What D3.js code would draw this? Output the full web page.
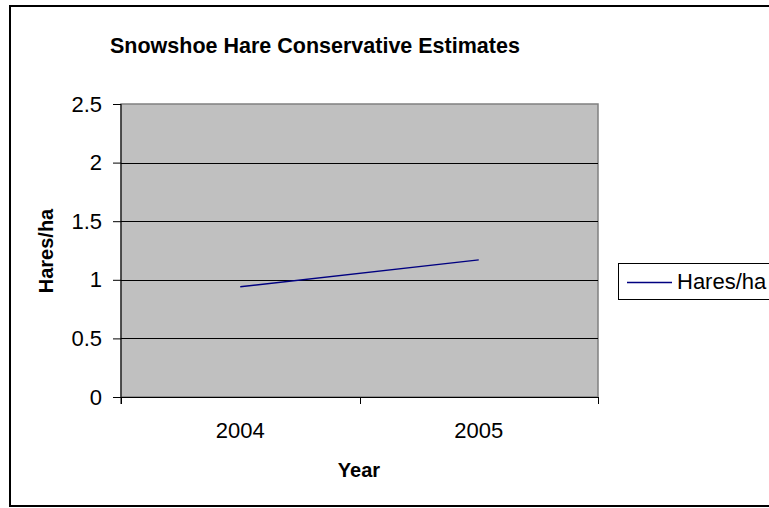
<!DOCTYPE html>
<html><head><meta charset="utf-8">
<script src="https://cdn.jsdelivr.net/npm/d3@7"></script>
<style>body{margin:0;background:#fff}svg{display:block}text{font-family:"Liberation Sans",Arial,sans-serif}</style>
</head><body><svg id="c" width="769" height="508"></svg>
<script>
const categories = ["2004", "2005"];
const values = [0.94, 1.17];
const yTicks = [0, 0.5, 1, 1.5, 2, 2.5];
const seriesName = "Hares/ha";
const title = "Snowshoe Hare Conservative Estimates";
const xTitle = "Year";
const yTitle = "Hares/ha";

const svg = d3.select("#c");
const m = {left: 121, right: 598, top: 104, bottom: 397};
const x = d3.scaleBand().domain(categories).range([m.left, m.right]);
const y = d3.scaleLinear().domain([0, 2.5]).range([m.bottom, m.top]);

// outer border
svg.append("rect").attr("x", 10).attr("y", 6).attr("width", 800).attr("height", 500)
  .attr("fill", "#fff").attr("stroke", "#000").attr("stroke-width", 2);

// plot area
svg.append("rect").attr("x", m.left).attr("y", m.top)
  .attr("width", m.right - m.left).attr("height", m.bottom - m.top)
  .attr("fill", "#c0c0c0").attr("stroke", "#808080").attr("stroke-width", 1.5);

// gridlines
svg.append("g").selectAll("line").data(yTicks.filter(d => d > 0 && d < 2.5)).join("line")
  .attr("x1", m.left).attr("x2", m.right)
  .attr("y1", d => Math.round(y(d)) + 0.5).attr("y2", d => Math.round(y(d)) + 0.5)
  .attr("stroke", "#000").attr("stroke-width", 1);

// y axis
const yAxis = d3.axisLeft(y).tickValues(yTicks).tickSize(8).tickPadding(11).tickFormat(d => String(d));
const gy = svg.append("g").attr("transform", `translate(${m.left},0)`).call(yAxis);
gy.select(".domain").attr("stroke", "#000").attr("d", `M0,${m.top}V${m.bottom + 7}`);
gy.selectAll(".tick line").attr("stroke", "#000");
gy.selectAll("text").attr("font-size", 22).attr("fill", "#000")
  .attr("font-family", '"Liberation Sans",Arial,sans-serif');

// x axis
const gx = svg.append("g").attr("transform", `translate(0,${m.bottom})`);
gx.append("line").attr("x1", m.left).attr("x2", m.right).attr("y1", 0.5).attr("y2", 0.5).attr("stroke", "#000");
const bounds = [m.left, x("2005"), m.right];
gx.selectAll("line.tk").data(bounds).join("line").attr("class", "tk")
  .attr("x1", d => Math.round(d) + 0.5).attr("x2", d => Math.round(d) + 0.5)
  .attr("y1", 0).attr("y2", 7).attr("stroke", "#000");
gx.selectAll("text").data(categories).join("text")
  .attr("x", d => x(d) + x.bandwidth() / 2).attr("y", 41)
  .attr("text-anchor", "middle").attr("font-size", 22).text(d => d);

// line
const line = d3.line().x((d, i) => x(categories[i]) + x.bandwidth() / 2).y(d => y(d));
svg.append("path").datum(values).attr("d", line).attr("fill", "none")
  .attr("stroke", "#000080").attr("stroke-width", 1.5);

// titles
svg.append("text").attr("x", 110).attr("y", 53).attr("font-size", 21.5).attr("font-weight", "bold").text(title);
svg.append("text").attr("x", 359).attr("y", 477).attr("text-anchor", "middle")
  .attr("font-size", 20).attr("font-weight", "bold").text(xTitle);
svg.append("text").attr("transform", "translate(53,251) rotate(-90)").attr("text-anchor", "middle")
  .attr("font-size", 20).attr("font-weight", "bold").text(yTitle);

// legend
const lg = svg.append("g");
lg.append("rect").attr("x", 618.5).attr("y", 263.5).attr("width", 200).attr("height", 36)
  .attr("fill", "#fff").attr("stroke", "#000").attr("stroke-width", 1);
lg.append("line").attr("x1", 627).attr("x2", 672).attr("y1", 282.5).attr("y2", 282.5)
  .attr("stroke", "#000080").attr("stroke-width", 1.5);
lg.append("text").attr("x", 677).attr("y", 289).attr("font-size", 22).text(seriesName);
</script></body></html>
